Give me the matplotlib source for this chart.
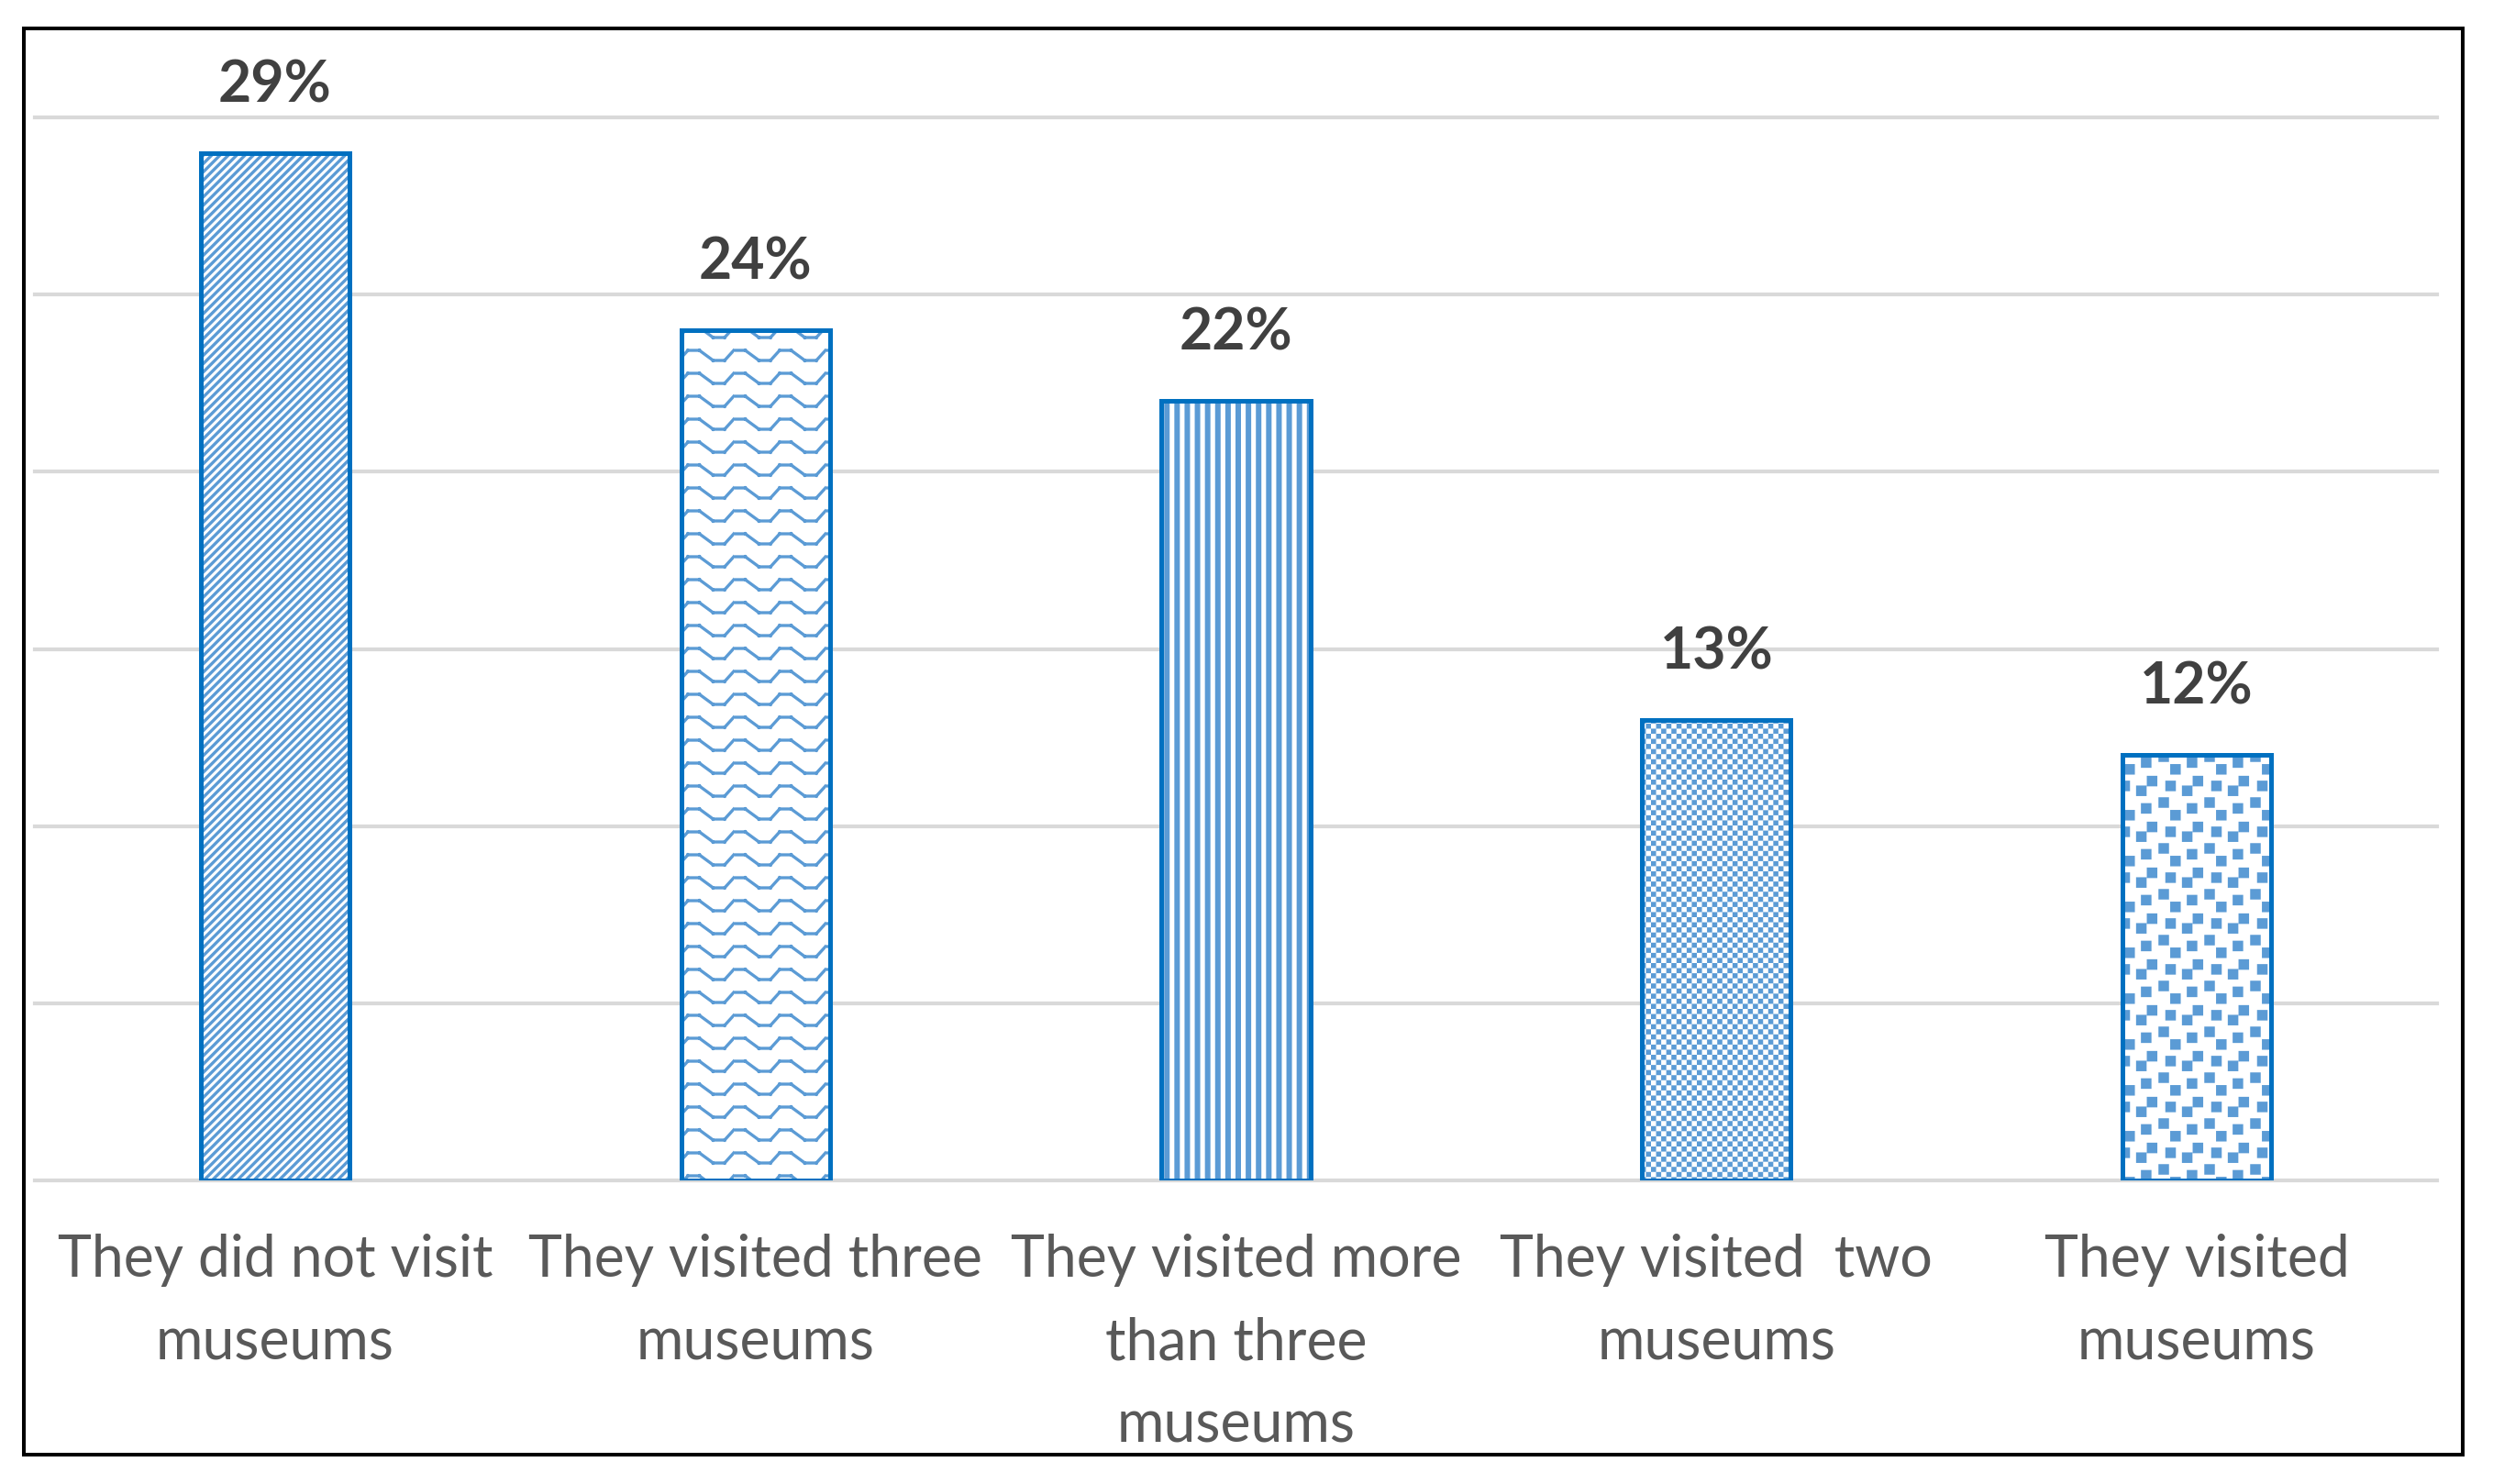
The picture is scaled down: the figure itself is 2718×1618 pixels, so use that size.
import warnings
import matplotlib
matplotlib.use("Agg")
import matplotlib.pyplot as plt
import matplotlib.hatch as mhatch
from matplotlib.path import Path
from matplotlib.patches import Rectangle

warnings.filterwarnings("ignore")

# data
categories = ["They did not visit\nmuseums",
              "They visited three\nmuseums",
              "They visited more\nthan three\nmuseums",
              "They visited  two\nmuseums",
              "They visited\nmuseums"]
values = [29, 24, 22, 13, 12]
value_labels = ["29%", "24%", "22%", "13%", "12%"]
patterns = ["d", "~", "!", "#", ":"]

W, H, DPI = 2718, 1618, 100
HLW = 2.4                 # hatch line width in points
TILE = float(DPI)         # agg hatch tile = one inch, in pixels
LW = HLW * DPI / 72       # hatch line width in pixels

plt.rcParams['hatch.linewidth'] = HLW

MV, LN, CL = Path.MOVETO, Path.LINETO, Path.CLOSEPOLY


# Excel-like fill textures registered as extra hatches (sizes in pixels)
class ShapeHatch(mhatch.HatchPatternBase):
    key = ""

    def __init__(self, hatch, density):
        self.parts = self.build() if self.key in hatch else []
        self.num_vertices = sum(len(v) for v, c in self.parts)

    def set_vertices_and_codes(self, vertices, codes):
        i = 0
        for v, c in self.parts:
            n = len(v)
            vertices[i:i + n] = [(a / TILE, b / TILE) for a, b in v]
            codes[i:i + n] = c
            i += n


def square(cx, cy, s):
    h = s / 2
    v = [(cx - h, cy - h), (cx + h, cy - h), (cx + h, cy + h), (cx - h, cy + h), (cx - h, cy - h)]
    return v, [MV, LN, LN, LN, CL]


class DiagHatch(ShapeHatch):
    key = "d"

    def build(self):
        n = 11
        step = TILE / n
        parts = []
        for k in range(-n - 1, n + 2):
            c = k * step
            parts.append(([(-10, -10 + c), (TILE + 10, TILE + 10 + c)], [MV, LN]))
        return parts


class WaveHatch(ShapeHatch):
    key = "~"

    def build(self):
        prof = [(0, 1), (0.25, 1), (0.55, -1), (0.8, -1), (1.0, 1)]
        period, gap, amp = TILE / 2, TILE / 4, 5.5
        parts = []
        for row in range(4):
            y0 = (row + 0.5) * gap
            for p in range(2):
                for (xa, ya), (xb, yb) in zip(prof[:-1], prof[1:]):
                    parts.append(([((p + xa) * period, y0 + amp * ya),
                                   ((p + xb) * period, y0 + amp * yb)], [MV, LN]))
        return parts


class StripeHatch(ShapeHatch):
    key = "!"

    def build(self):
        n, width = 9, 6
        period = TILE / n
        w = width - LW
        parts = []
        for i in range(n):
            cx = (i + 0.5) * period
            v = [(cx - w / 2, -10), (cx + w / 2, -10), (cx + w / 2, TILE + 10),
                 (cx - w / 2, TILE + 10), (cx - w / 2, -10)]
            parts.append((v, [MV, LN, LN, LN, CL]))
        return parts


class CheckerHatch(ShapeHatch):
    key = "#"

    def build(self):
        n = 18
        cell = TILE / n
        return [square((i + 0.5) * cell, (j + 0.5) * cell, cell - LW)
                for i in range(n) for j in range(n) if (i + j) % 2 == 0]


class ConfettiHatch(ShapeHatch):
    key = ":"

    def build(self):
        centers = [(21.8, 11.2), (9.0, 25.0), (39.9, 18.6), (16.5, 43.1), (34.6, 37.8), (46.3, 48.4)]
        side = 11.5 - LW
        period = TILE / 2
        parts = []
        for cx, cy in centers:
            for i in range(-1, 3):
                for j in range(-1, 3):
                    parts.append(square(cx + i * period, cy + j * period, side))
        return parts


mhatch._hatch_types.extend([DiagHatch, WaveHatch, StripeHatch, CheckerHatch, ConfettiHatch])

fig = plt.figure(figsize=(W / DPI, H / DPI), dpi=DPI)
ax = fig.add_axes([38 / W, 1 - 1287 / H, (2657 - 38) / W, (1287 - 128) / H])

x = list(range(len(values)))
bw = 0.31
hatch_blue = "#5B9BD5"
edge_blue = "#0070C0"

bars = ax.bar(x, values, bw, color="white", edgecolor=hatch_blue, linewidth=0, zorder=2)
for b, p in zip(bars, patterns):
    b.set_hatch(p)
ax.bar(x, values, bw, fill=False, edgecolor=edge_blue, linewidth=3.6, zorder=3)

for xi, v, lbl in zip(x, values, value_labels):
    ax.annotate(lbl, (xi, v), xytext=(0, 40), textcoords="offset points",
                ha="center", va="baseline", fontsize=45, fontweight="bold",
                color="#404040", family="Lato")

ax.set_xlim(-0.5, len(values) - 0.5)
ax.set_ylim(0, 30)
ax.set_yticks([0, 5, 10, 15, 20, 25, 30])
ax.set_yticklabels([])
ax.set_xticks(x)
ax.set_xticklabels(categories, fontsize=45, color="#595959", family="Lato", linespacing=1.68)
ax.tick_params(axis="both", length=0)
ax.tick_params(axis="x", pad=42)
ax.yaxis.grid(True, color="#D9D9D9", linewidth=3)
ax.set_axisbelow(True)
for gl in ax.yaxis.get_gridlines():
    gl.set_clip_on(False)
for s in ax.spines.values():
    s.set_visible(False)

fig.add_artist(Rectangle((26 / W, 1 - 1586 / H), (2685 - 26) / W, (1586 - 31) / H,
                         transform=fig.transFigure, fill=False, linewidth=2.9, edgecolor="black"))

fig.savefig("out.png", dpi=DPI, facecolor="white")
